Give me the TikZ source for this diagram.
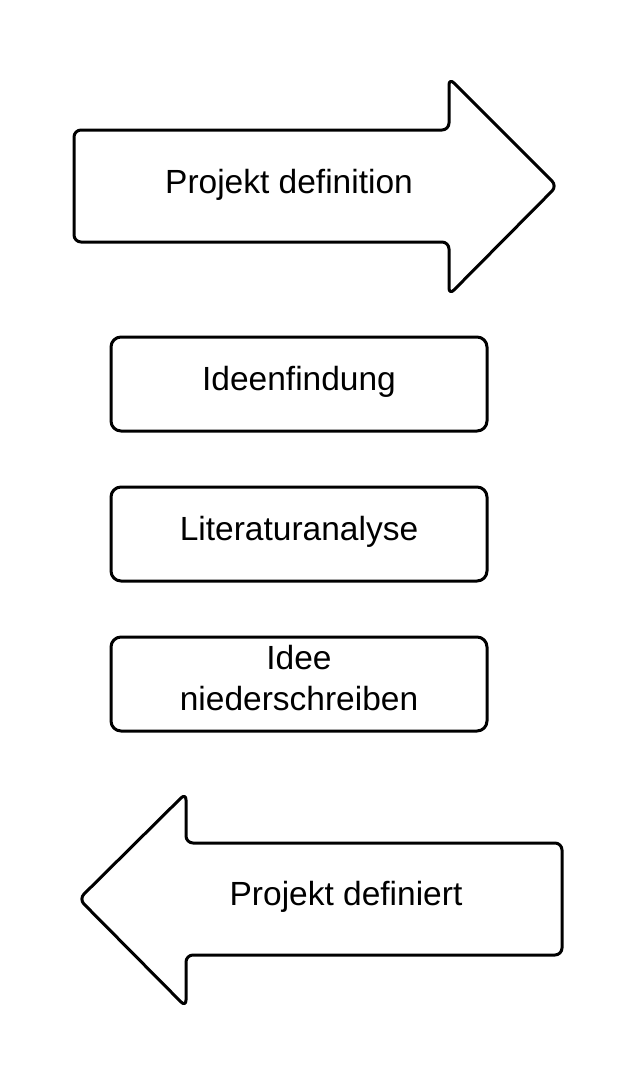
\documentclass[tikz,border=0pt]{standalone}
\usepackage{fontspec}
\setmainfont{Liberation Sans}
\begin{document}
\begin{tikzpicture}[x=1pt,y=-1pt,
  shp/.style={draw=black,line width=3pt,fill=white,rounded corners=7pt,line join=round},
  lbl/.style={font=\fontsize{33.5}{41}\selectfont,align=center,inner sep=0pt},
  box/.style={shp,minimum width=376pt,minimum height=94pt,rounded corners=10pt}]
\useasboundingbox (0,0) rectangle (638,1088);
\fill[white] (0,0) rectangle (638,1088);
% top arrow
\draw[shp] (74,130) -- (449,130) -- (449,78) -- (557,186) -- (449,295) -- (449,242) -- (74,242) -- cycle;
\node[lbl] (t) at (289,185) {Projekt definition};
% boxes
\node[box] (b1) at (299,384) {};
\node[lbl] (l1) at (299,382) {Ideenfindung};
\node[box] (b2) at (299,534) {};
\node[lbl] (l2) at (299,532) {Literaturanalyse};
\node[box] (b3) at (299,684) {};
\node[lbl] (l3) at (299,678) {Idee\\niederschreiben};
% bottom arrow
\draw[shp] (562,843) -- (186,843) -- (186,793) -- (79,899) -- (186,1007) -- (186,955) -- (562,955) -- cycle;
\node[lbl] (d) at (346,897) {Projekt definiert};
\end{tikzpicture}
\end{document}
